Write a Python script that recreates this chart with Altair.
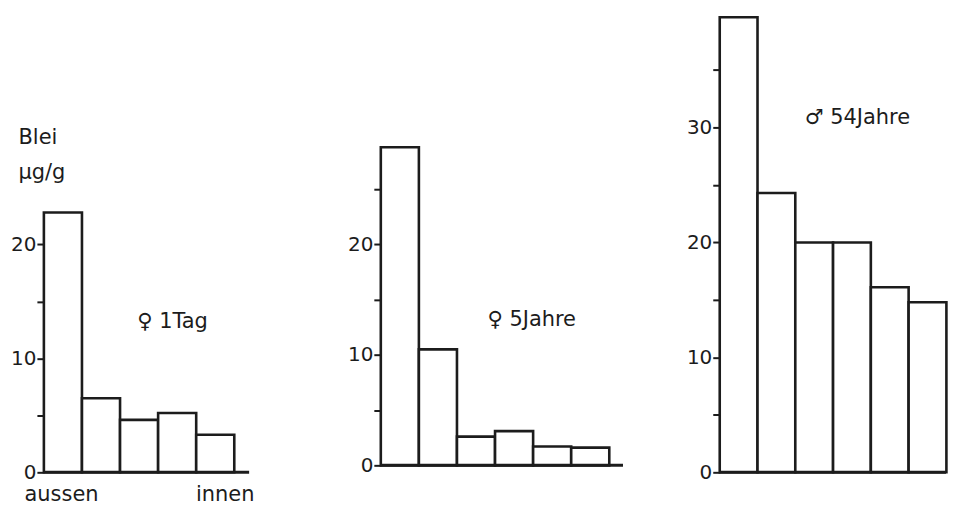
import altair as alt
import pandas as pd

# Lead content (µg/g) per zone, from outside (aussen) to inside (innen)
day1_values = [22.8, 6.5, 4.6, 5.2, 3.3]
yr5_values = [28.8, 10.5, 2.6, 3.1, 1.7, 1.6]
yr54_values = [39.6, 24.3, 20.0, 20.0, 16.1, 14.8]
panel_labels = ["♀ 1Tag", "♀ 5Jahre", "♂ 54Jahre"]
tick_values = [[0, 5, 10, 15, 20], [0, 5, 10, 15, 20, 25], [0, 5, 10, 15, 20, 25, 30, 35]]
edge_labels = ["aussen", "innen"]
unit_title = ["Blei", "µg/g"]

FONT = "DejaVu Sans"
INK = "#1c1c1c"


def panel(values, label, ticks, w, h, xmax, ymax, base_end, lx, ly, first=False):
    n = len(values)
    bars = pd.DataFrame({"lo": list(range(n)), "hi": list(range(1, n + 1)), "v": values})
    xs = alt.Scale(domain=[0, xmax], nice=False, zero=False)
    ys = alt.Scale(domain=[0, ymax], nice=False, zero=True)
    if first:
        xaxis = alt.Axis(
            values=[0.45, n - 0.25],
            labelExpr=f"datum.value < 1 ? '{edge_labels[0]}' : '{edge_labels[1]}'",
            ticks=False, domain=False, grid=False, title=None,
            labelFont=FONT, labelFontSize=21, labelColor=INK,
            labelPadding=28, labelBaseline="alphabetic", labelAlign="center",
        )
    else:
        xaxis = None
    yargs = dict(
        values=ticks,
        labelExpr="datum.value % 10 == 0 ? datum.label : ''",
        domain=False, grid=False, ticks=True, tickSize=7, tickWidth=2,
        tickColor=INK, labelFont=FONT, labelFontSize=20, labelColor=INK,
        labelPadding=1,
    )
    if first:
        yargs.update(
            title=unit_title, titleAngle=0, titleAlign="left",
            titleBaseline="alphabetic", titleX=-26, titleY=133,
            titleFont=FONT, titleFontSize=21, titleFontWeight="normal",
            titleColor=INK, titleLineHeight=35,
        )
    else:
        yargs.update(title=None)
    yaxis = alt.Axis(**yargs)

    bar_layer = alt.Chart(bars).mark_rect(
        fill="white", stroke=INK, strokeWidth=2.6
    ).encode(
        x=alt.X("lo:Q", scale=xs, axis=xaxis),
        x2="hi:Q",
        y=alt.Y("v:Q", scale=ys, axis=yaxis),
        y2=alt.datum(0),
    )
    base = alt.Chart(pd.DataFrame({"a": [0], "b": [base_end], "z": [0]})).mark_rule(
        stroke=INK, strokeWidth=3
    ).encode(x=alt.X("a:Q", scale=xs), x2="b:Q", y=alt.Y("z:Q", scale=ys))
    txt = alt.Chart(pd.DataFrame({"x": [lx], "y": [ly], "t": [label]})).mark_text(
        align="left", baseline="middle", font=FONT, fontSize=21, color=INK
    ).encode(x=alt.X("x:Q", scale=xs), y=alt.Y("y:Q", scale=ys), text="t:N")
    return alt.layer(bar_layer, base, txt).properties(width=w, height=h)


p1 = panel(day1_values, panel_labels[0], tick_values[0], 338, 463, 338 / 38.2, 463 / 11.43, 5.39, 2.45, 13.2, first=True)
p2 = panel(yr5_values, panel_labels[1], tick_values[1], 340, 456, 340 / 38.2, 456 / 11.08, 6.36, 2.8, 13.2)
p3 = panel(yr54_values, panel_labels[2], tick_values[2], 226, 463, 226 / 37.9, 463 / 11.53, 5.99, 2.25, 30.8)

chart = (
    alt.hconcat(p1, p2, p3, spacing=0, bounds="flush")
    .properties(padding={"left": 2, "top": 2, "right": 0, "bottom": 0})
    .configure(background="white")
    .configure_view(strokeWidth=0, stroke="transparent")
)

chart.save("out.html", embed_options={"renderer": "svg", "actions": False})
